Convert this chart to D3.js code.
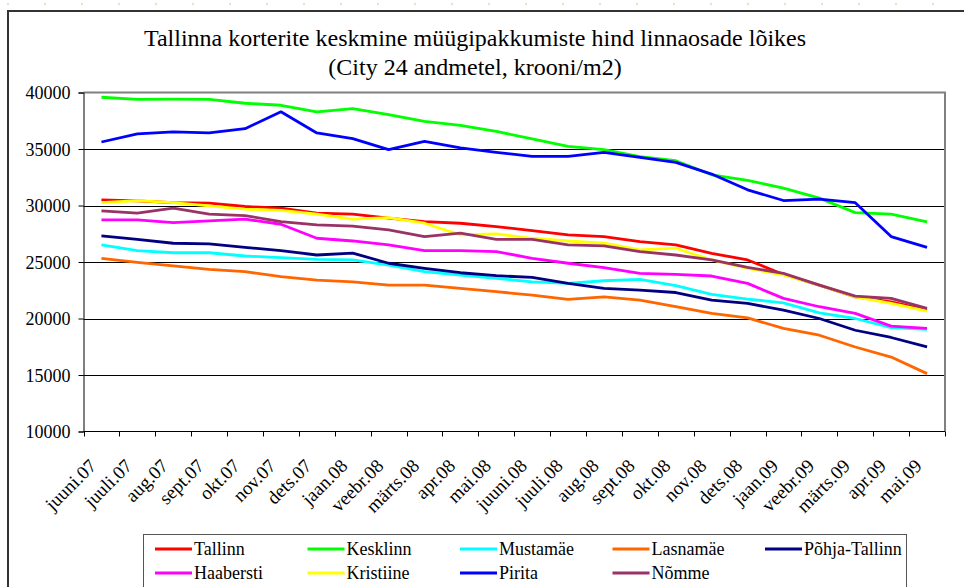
<!DOCTYPE html>
<html>
<head>
<meta charset="utf-8">
<script src="https://cdn.jsdelivr.net/npm/d3@7"></script>
<style>
  body { margin: 0; background: #fff; }
  svg text { font-family: "Liberation Serif", "DejaVu Serif", serif; }
</style>
</head>
<body>
<div id="chart"></div>
<script>
// month labels on the category axis
let months = ["juuni.07", "juuli.07", "aug.07", "sept.07", "okt.07", "nov.07", "dets.07",
  "jaan.08", "veebr.08", "märts.08", "apr.08", "mai.08", "juuni.08", "juuli.08", "aug.08",
  "sept.08", "okt.08", "nov.08", "dets.08", "jaan.09", "veebr.09", "märts.09", "apr.09", "mai.09"];

let yTicks = [10000, 15000, 20000, 25000, 30000, 35000, 40000];

// average asking price, kroons/m2
let tallinn = [30500, 30410, 30260, 30210, 29910, 29760, 29320, 29230, 28880, 28580, 28430, 28130,
  27780, 27400, 27250, 26800, 26510, 25770, 25180, 23900, 22960, 21920, 21480, 20740];
let kesklinn = [39580, 39400, 39420, 39400, 39050, 38870, 38290, 38580, 38050, 37450, 37100, 36560,
  35890, 35240, 34940, 34320, 33960, 32720, 32220, 31540, 30650, 29370, 29230, 28550];
let mustamae = [26510, 26000, 25820, 25820, 25530, 25380, 25240, 25180, 24730, 24140, 23850, 23550,
  23250, 23110, 23340, 23460, 22900, 22130, 21720, 21390, 20500, 20000, 19200, 19030];
let lasnamae = [25330, 24970, 24650, 24350, 24140, 23700, 23400, 23250, 22960, 22960, 22670, 22370,
  22070, 21690, 21920, 21630, 21040, 20450, 20060, 19120, 18520, 17480, 16590, 15120];
let pohjaTallinn = [27310, 27010, 26660, 26600, 26300, 26000, 25620, 25790, 24890, 24440, 24050, 23790,
  23640, 23110, 22670, 22510, 22300, 21630, 21330, 20740, 20000, 18960, 18320, 17480];
let haabersti = [28730, 28730, 28490, 28640, 28790, 28340, 27100, 26860, 26510, 26000, 26000, 25920,
  25330, 24890, 24500, 24000, 23910, 23760, 23110, 21780, 21040, 20450, 19320, 19120];
let kristiine = [30260, 30440, 30260, 29970, 29680, 29560, 29230, 28790, 28930, 28430, 27400, 27490,
  27100, 26860, 26660, 26070, 26220, 25180, 24440, 23850, 22960, 21920, 21330, 20650];
let pirita = [35620, 36330, 36510, 36420, 36800, 38290, 36420, 35920, 34940, 35680, 35090, 34700,
  34350, 34350, 34700, 34260, 33810, 32780, 31390, 30440, 30560, 30250, 27250, 26300];
let nomme = [29530, 29320, 29760, 29230, 29110, 28580, 28280, 28180, 27840, 27250, 27550, 27010,
  27010, 26510, 26420, 25920, 25620, 25180, 24530, 24000, 22960, 21980, 21780, 20890];

let seriesNames = ["Tallinn", "Kesklinn", "Mustamäe", "Lasnamäe", "Põhja-Tallinn",
  "Haabersti", "Kristiine", "Pirita", "Nõmme"];
let seriesValues = [tallinn, kesklinn, mustamae, lasnamae, pohjaTallinn,
  haabersti, kristiine, pirita, nomme];
let seriesColors = ["#ff0000", "#00ff00", "#00ffff", "#ff6600", "#000080",
  "#ff00ff", "#ffff00", "#0000ff", "#993366"];

let width = 964;
let height = 587;
let plot = { left: 83.5, right: 945, top: 92.5, bottom: 431.5 };

let svg = d3.select("#chart")
  .append("svg")
  .attr("width", width)
  .attr("height", height);

// faint dotted backdrop outside the chart frame
let defs = svg.append("defs");
let pat = defs.append("pattern")
  .attr("id", "dots")
  .attr("width", 37)
  .attr("height", 29)
  .attr("patternUnits", "userSpaceOnUse");
pat.append("circle").attr("cx", 8).attr("cy", 4).attr("r", 1.2).attr("fill", "#e4e4bc");
pat.append("circle").attr("cx", 26).attr("cy", 19).attr("r", 1.2).attr("fill", "#e4e4bc");
svg.append("rect").attr("width", width).attr("height", height).attr("fill", "url(#dots)");

// chart frame
svg.append("rect")
  .attr("x", 8)
  .attr("y", 11)
  .attr("width", width + 10)
  .attr("height", height + 10)
  .attr("fill", "white")
  .attr("stroke", "#333")
  .attr("stroke-width", 2);

// scales
let x = d3.scaleBand()
  .domain(months)
  .range([plot.left, plot.right])
  .paddingInner(0)
  .paddingOuter(0);

let y = d3.scaleLinear()
  .domain([10000, 40000])
  .range([plot.bottom, plot.top]);

// title
svg.append("text")
  .attr("x", 475)
  .attr("y", 46)
  .attr("text-anchor", "middle")
  .style("font-size", "24px")
  .text("Tallinna korterite keskmine müügipakkumiste hind linnaosade lõikes");
svg.append("text")
  .attr("x", 475)
  .attr("y", 75)
  .attr("text-anchor", "middle")
  .style("font-size", "24px")
  .text("(City 24 andmetel, krooni/m2)");

// horizontal gridlines
svg.append("g")
  .selectAll("line")
  .data(yTicks.filter(d => d > 10000 && d < 40000))
  .enter()
  .append("line")
  .attr("x1", plot.left)
  .attr("x2", plot.right)
  .attr("y1", d => Math.round(y(d)) + 0.5)
  .attr("y2", d => Math.round(y(d)) + 0.5)
  .attr("stroke", "#000")
  .attr("stroke-width", 1);

// plot area border (top and right in grey)
svg.append("path")
  .attr("d", `M${plot.left},${plot.top}H${plot.right}V${plot.bottom}`)
  .attr("fill", "none")
  .attr("stroke", "#808080")
  .attr("stroke-width", 2);

// y axis
let yAxis = d3.axisLeft(y)
  .tickValues(yTicks)
  .tickSize(5)
  .tickFormat(d3.format("d"));

let yG = svg.append("g")
  .attr("transform", `translate(${plot.left},0)`)
  .call(yAxis);
yG.attr("font-family", null);
yG.select(".domain").attr("stroke", "#000");
yG.selectAll("text")
  .style("font-size", "18px")
  .style("font-family", "Liberation Serif")
  .attr("fill", "#000")
  .attr("x", -13)
  .attr("dy", "0.35em");

// x axis: ticks at category boundaries
let boundaries = months.map(m => x(m)).concat([plot.right]);
let xG = svg.append("g");
xG.append("line")
  .attr("x1", plot.left)
  .attr("x2", plot.right)
  .attr("y1", plot.bottom)
  .attr("y2", plot.bottom)
  .attr("stroke", "#000");
xG.selectAll("line.tick")
  .data(boundaries)
  .enter()
  .append("line")
  .attr("class", "tick")
  .attr("x1", d => Math.round(d) + 0.5)
  .attr("x2", d => Math.round(d) + 0.5)
  .attr("y1", plot.bottom)
  .attr("y2", plot.bottom + 5)
  .attr("stroke", "#000");
xG.selectAll("text")
  .data(months)
  .enter()
  .append("text")
  .attr("transform", d => `translate(${x(d) + x.bandwidth() / 2 - 4},467) rotate(-45)`)
  .attr("text-anchor", "end")
  .style("font-size", "19px")
  .text(d => d);

// series lines
let line = d3.line()
  .x((d, i) => x(months[i]) + x.bandwidth() / 2)
  .y(d => y(d));

svg.append("g")
  .selectAll("path")
  .data(seriesValues)
  .enter()
  .append("path")
  .attr("d", d => line(d))
  .attr("fill", "none")
  .attr("stroke", (d, i) => seriesColors[i])
  .attr("stroke-width", 2.8)
  .attr("stroke-linejoin", "round");

// legend
let legend = svg.append("g");
legend.append("rect")
  .attr("x", 143.5)
  .attr("y", 534.5)
  .attr("width", 763)
  .attr("height", 80)
  .attr("fill", "white")
  .attr("stroke", "#555")
  .attr("stroke-width", 1);

let items = legend.selectAll("g.item")
  .data(seriesNames)
  .enter()
  .append("g")
  .attr("class", "item")
  .attr("transform", (d, i) => `translate(${155 + (i % 5) * 152.5},${i < 5 ? 549 : 573})`);

items.append("line")
  .attr("x1", 0)
  .attr("x2", 37)
  .attr("stroke", (d, i) => seriesColors[i])
  .attr("stroke-width", 2.8);

items.append("text")
  .attr("x", 39)
  .attr("dy", "0.35em")
  .style("font-size", "18px")
  .text(d => d);
</script>
</body>
</html>
